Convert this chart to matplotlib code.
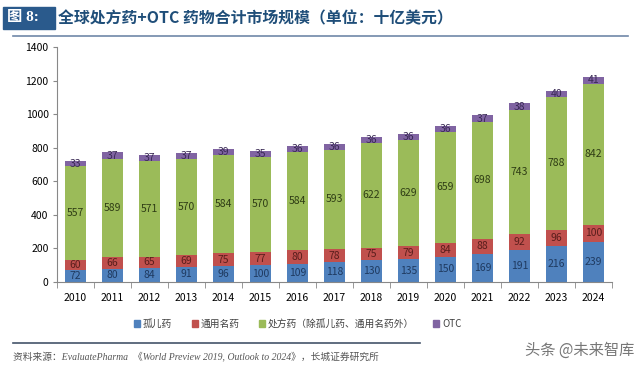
import matplotlib
matplotlib.use("Agg")
import matplotlib.pyplot as plt
import numpy as np
from matplotlib.patches import Rectangle
from matplotlib.lines import Line2D

plt.rcParams['font.family'] = ['Noto Sans CJK SC', 'DejaVu Sans']

years = ['2010', '2011', '2012', '2013', '2014', '2015', '2016', '2017',
         '2018', '2019', '2020', '2021', '2022', '2023', '2024']
orphan = [72, 80, 84, 91, 96, 100, 109, 118, 130, 135, 150, 169, 191, 216, 239]
generic = [60, 66, 65, 69, 75, 77, 80, 78, 75, 79, 84, 88, 92, 96, 100]
rx_other = [557, 589, 571, 570, 584, 570, 584, 593, 622, 629, 659, 698, 743, 788, 842]
otc = [33, 37, 37, 37, 39, 35, 36, 36, 36, 36, 36, 37, 38, 40, 41]
series_names = ['孤儿药', '通用名药', '处方药（除孤儿药、通用名药外）', 'OTC']

colors = ['#4f81bd', '#c0504d', '#9bbb59', '#8064a2']
label_colors = ['#1f3a60', '#5a1e1c', '#2f3d15', '#3a2a55']

fig = plt.figure(figsize=(6.4, 3.72), dpi=100)
ax = fig.add_axes([57/640, 1-282/372, (612-57)/640, (282-47)/372])

x = np.arange(len(years))
bottom = np.zeros(len(years))
w = 0.58
for vals, c, lc, name in zip([orphan, generic, rx_other, otc], colors, label_colors, series_names):
    vals = np.array(vals)
    ax.bar(x, vals, w, bottom=bottom, color=c, label=name, zorder=2)
    for xi, b, v in zip(x, bottom, vals):
        ax.text(xi, b + v/2, str(v), ha='center', va='center', fontsize=7.5, color=lc, zorder=3)
    bottom = bottom + vals

ax.set_xlim(-0.5, len(years)-0.5)
ax.set_ylim(0, 1400)
ax.set_yticks(np.arange(0, 1401, 200))
ax.tick_params(axis='y', labelsize=7.5, length=3, color='#888888', pad=3)
ax.set_xticks(x)
ax.set_xticklabels(years)
ax.tick_params(axis='x', labelsize=7.5, length=0, pad=8)
ax.set_xticks(np.arange(-0.5, len(years), 1), minor=True)
ax.tick_params(axis='x', which='minor', length=4, color='#888888')
for s in ['top', 'right']:
    ax.spines[s].set_visible(False)
for s in ['left', 'bottom']:
    ax.spines[s].set_color('#888888')
    ax.spines[s].set_linewidth(0.8)

# legend
handles = [Rectangle((0, 0), 1, 1, color=c) for c in colors]
leg = fig.legend(handles, series_names, loc='center', bbox_to_anchor=(298/640, 1-324/372),
                 ncol=4, frameon=False, fontsize=7, handlelength=0.6, handleheight=0.6,
                 handletextpad=0.3, columnspacing=2.0)
for t in leg.get_texts():
    t.set_color('#404040')

# title bar
fig.patches.append(Rectangle((3/640, 1-29/372), 52/640, 22/372, transform=fig.transFigure,
                             color='#2a5a8c', zorder=1))
fig.text(7/640, 1-18/372, '图 8:', color='white', fontsize=11, fontweight='bold', va='center', ha='left',
         family=['Liberation Serif', 'Noto Sans CJK SC'])
fig.text(58/640, 1-18/372, '全球处方药+OTC 药物合计市场规模（单位：十亿美元）', color='#1f4e79',
         fontsize=11.4, fontweight='bold', va='center', ha='left')
fig.lines.append(Line2D([13/640, 628/640], [1-36/372, 1-36/372], transform=fig.transFigure,
                        color='#6f87a8', linewidth=1.2))

# bottom line & source
fig.lines.append(Line2D([13/640, 420/640], [1-343/372, 1-343/372], transform=fig.transFigure,
                        color='#44546a', linewidth=1.2))
fig.text(13/640, 1-357/372, '资料来源：EvaluatePharma  《World Preview 2019, Outlook to 2024》，长城证券研究所',
         fontsize=7, style='italic', color='#555555', va='center', ha='left',
         family=['Liberation Serif', 'Noto Sans CJK SC'])
fig.text(525/640, 1-350/372, '头条 @未来智库', fontsize=11, color='#555555', alpha=0.8,
         va='center', ha='left')

fig.savefig('out.png', dpi=100)
